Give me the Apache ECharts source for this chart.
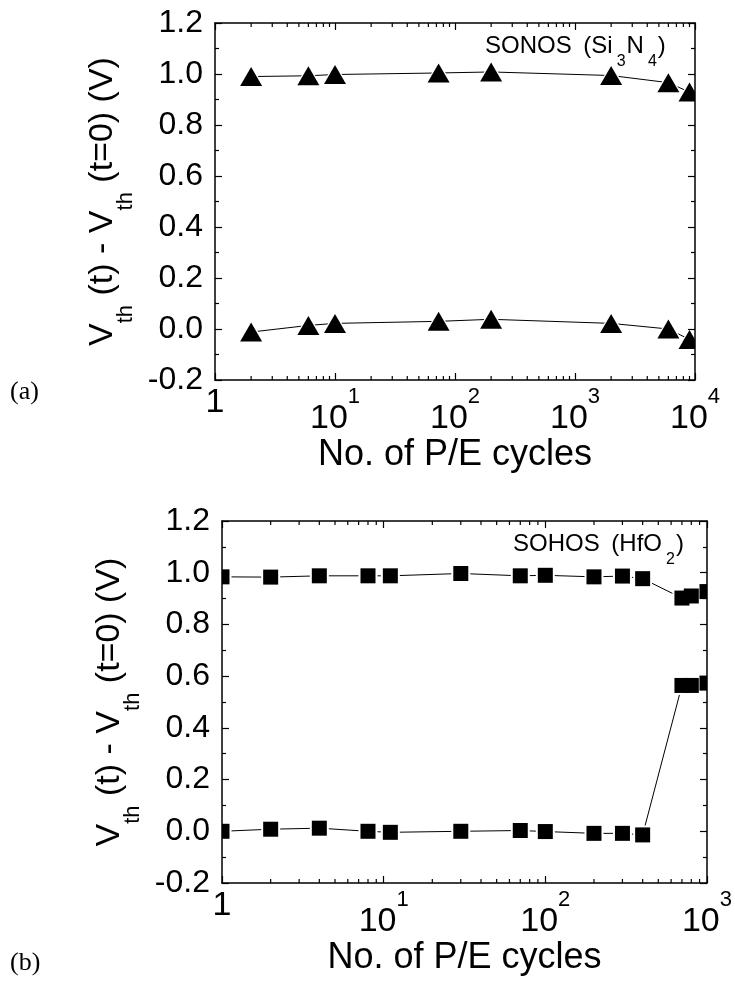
<!DOCTYPE html>
<html>
<head>
<meta charset="utf-8">
<script src="https://cdn.jsdelivr.net/npm/echarts@6/dist/echarts.min.js"></script>
<style>
  html, body { margin: 0; padding: 0; background: #fff; }
  #chart { width: 735px; height: 983px; }
</style>
</head>
<body>
<div id="chart"></div>
<script>
// Panel (a): SONOS (Si3N4) cell, threshold-voltage window vs. P/E cycles
const cyclesA = [2, 6, 10, 73, 200, 2000, 6000, 9000];
const upperA = [0.990, 0.993, 0.998, 1.004, 1.008, 0.994, 0.966, 0.929];
const lowerA = [-0.012, 0.014, 0.022, 0.030, 0.038, 0.022, 0.000, -0.041];

// Panel (b): SOHOS (HfO2) cell
const cyclesB = [1, 2, 4, 8, 11, 30, 70, 100, 200, 300, 400, 700, 800, 1000];
const upperB = [0.984, 0.983, 0.988, 0.988, 0.988, 0.997, 0.988, 0.990, 0.984, 0.987, 0.977, 0.902, 0.910, 0.927];
const lowerB = [0.000, 0.008, 0.012, 0.000, -0.004, 0.000, 0.003, -0.001, -0.008, -0.008, -0.014, 0.564, 0.564, 0.573];

// Axis ticks
const yTicks = [-0.2, 0.0, 0.2, 0.4, 0.6, 0.8, 1.0, 1.2];
const decadesA = [1, 10, 100, 1000, 10000];
const decadesB = [1, 10, 100, 1000];
const minorMultipliers = [2, 3, 4, 5, 6, 7, 8, 9];

const FONT = '"Liberation Sans", Arial, sans-serif';
const SERIF = '"Liberation Serif", "Times New Roman", serif';
const INK = '#000';

function minorValues(decades) {
  const out = [];
  decades.slice(0, -1).forEach(d => minorMultipliers.forEach(m => out.push([d * m])));
  return out;
}

function xLabel(v) {
  if (v === 1) return '{o|1}';
  return '{b|10}{s|' + Math.round(Math.log10(v)) + '}';
}

const frameLine = { show: true, onZero: false, lineStyle: { color: INK, width: 1.5 } };
const majorTick = { show: true, inside: true, length: 7, lineStyle: { color: INK, width: 1.2 } };

function xAxes(gridIndex, decades) {
  const common = {
    type: 'log', logBase: 10, gridIndex,
    min: decades[0], max: decades[decades.length - 1],
    splitNumber: decades.length - 1,
    axisLine: frameLine, axisTick: majorTick, splitLine: { show: false }, z: 10
  };
  return [
    Object.assign({}, common, {
      position: 'bottom',
      name: 'No. of P/E cycles', nameLocation: 'middle', nameGap: 51,
      nameTextStyle: { fontFamily: FONT, fontSize: 36, color: INK },
      axisLabel: {
        show: true, margin: 6, color: INK, fontFamily: FONT,
        formatter: xLabel,
        rich: {
          o: { fontFamily: FONT, fontSize: 34, lineHeight: 34, verticalAlign: 'top', color: INK },
          b: { fontFamily: FONT, fontSize: 34, lineHeight: 50, verticalAlign: 'bottom', color: INK },
          s: { fontFamily: FONT, fontSize: 22, lineHeight: 22, verticalAlign: 'top', color: INK }
        }
      }
    }),
    Object.assign({}, common, { position: 'top', axisLabel: { show: false } })
  ];
}

function yAxes(gridIndex) {
  const common = {
    type: 'value', gridIndex,
    min: yTicks[0], max: yTicks[yTicks.length - 1],
    interval: +(yTicks[1] - yTicks[0]).toFixed(2),
    axisLine: frameLine, axisTick: majorTick,
    minorTick: { show: true, splitNumber: 2, length: 4, lineStyle: { color: INK, width: 1.2 } },
    splitLine: { show: false }, minorSplitLine: { show: false }, z: 10
  };
  return [
    Object.assign({}, common, {
      position: 'left',
      name: '{b|V}{s|th}{b| (t) - V}{s|th}{b| (t=0) (V)}',
      nameLocation: 'middle', nameRotate: 90, nameGap: 80,
      nameTextStyle: {
        fontFamily: FONT, fontSize: 34, color: INK,
        rich: {
          b: { fontFamily: FONT, fontSize: 34, lineHeight: 34, verticalAlign: 'top', color: INK },
          s: { fontFamily: FONT, fontSize: 22, lineHeight: 22, verticalAlign: 'top', padding: [29, 0, 0, 0], color: INK }
        }
      },
      axisLabel: {
        show: true, margin: 12, color: INK, fontFamily: FONT, fontSize: 32,
        formatter: v => v.toFixed(1)
      }
    }),
    Object.assign({}, common, { position: 'right', axisLabel: { show: false } })
  ];
}

// connecting line, drawn beneath the symbols
function lineSeries(ax, xs, ys) {
  return {
    type: 'line', xAxisIndex: ax, yAxisIndex: ax, z: 2,
    data: xs.map((x, i) => [x, ys[i]]),
    symbol: 'none', showSymbol: false, silent: true,
    lineStyle: { color: INK, width: 1 }
  };
}

// symbols clipped to the plot frame; a white halo opens a small gap in the line
function symbolSeries(ax, xs, ys, shape, size, fill, z) {
  return {
    type: 'custom', xAxisIndex: ax, yAxisIndex: ax, z, silent: true, clip: false,
    data: xs.map((x, i) => [x, ys[i]]),
    encode: { x: 0, y: 1 },
    renderItem(params, api) {
      const c = api.coord([api.value(0), api.value(1)]);
      const cs = params.coordSys;
      const w = size[0], h = size[1];
      const el = shape === 'triangle'
        ? { type: 'polygon', shape: { points: [[c[0], c[1] - h / 2], [c[0] + w / 2, c[1] + h / 2], [c[0] - w / 2, c[1] + h / 2]] }, style: { fill } }
        : { type: 'rect', shape: { x: c[0] - w / 2, y: c[1] - h / 2, width: w, height: h }, style: { fill } };
      return {
        type: 'group',
        clipPath: { type: 'rect', shape: { x: cs.x, y: cs.y, width: cs.width, height: cs.height } },
        children: [el]
      };
    }
  };
}

// log-axis minor ticks (2..9 per decade) on the bottom and top edges
function minorTickSeries(ax, decades) {
  return {
    type: 'custom', xAxisIndex: ax, yAxisIndex: ax, z: 11, silent: true, clip: false,
    data: minorValues(decades).map(v => [v[0], 0]),
    encode: { x: 0, y: 1 },
    renderItem(params, api) {
      const x = api.coord([api.value(0), 0])[0];
      const cs = params.coordSys;
      const st = { stroke: INK, lineWidth: 1.2 };
      return {
        type: 'group',
        children: [
          { type: 'line', shape: { x1: x, y1: cs.y + cs.height, x2: x, y2: cs.y + cs.height - 4 }, style: st },
          { type: 'line', shape: { x1: x, y1: cs.y, x2: x, y2: cs.y + 4 }, style: st }
        ]
      };
    }
  };
}

function panelSeries(xAx, yAx, xs, up, lo, shape, halo, mark) {
  return [
    lineSeries(xAx, xs, up),
    lineSeries(xAx, xs, lo),
    symbolSeries(xAx, xs, up, shape, halo, '#fff', 3),
    symbolSeries(xAx, xs, lo, shape, halo, '#fff', 3),
    symbolSeries(xAx, xs, up, shape, mark, INK, 4),
    symbolSeries(xAx, xs, lo, shape, mark, INK, 4)
  ];
}

const axA = xAxes(0, decadesA), axB = xAxes(1, decadesB);
const ayA = yAxes(0), ayB = yAxes(1);

// panel (a) uses x/y axis 0, panel (b) uses x/y axis 2
function withAxes(list, xi, yi) {
  return list.map(s => Object.assign(s, { xAxisIndex: xi, yAxisIndex: yi }));
}

const legendRich = {
  a: { fontFamily: FONT, fontSize: 24, lineHeight: 24, verticalAlign: 'top', fill: INK },
  w: { fontFamily: FONT, fontSize: 24, lineHeight: 24, verticalAlign: 'top', padding: [0, 5, 0, 0], fill: INK },
  s: { fontFamily: FONT, fontSize: 16, lineHeight: 16, verticalAlign: 'top', padding: [20, 1, 0, 4], fill: INK }
};

const option = {
  animation: false,
  backgroundColor: '#fff',
  grid: [
    { left: 215, top: 23, width: 480, height: 357 },
    { left: 222, top: 521, width: 486, height: 362 }
  ],
  xAxis: [axA[0], axA[1], axB[0], axB[1]],
  yAxis: [ayA[0], ayA[1], ayB[0], ayB[1]],
  series: [].concat(
    withAxes(panelSeries(0, 0, cyclesA, upperA, lowerA, 'triangle', [28, 24], [22, 19]), 0, 0),
    withAxes([minorTickSeries(0, decadesA)], 0, 0),
    withAxes(panelSeries(2, 2, cyclesB, upperB, lowerB, 'rect', [19, 19], [15, 15]), 2, 2),
    withAxes([minorTickSeries(2, decadesB)], 2, 2)
  ),
  graphic: [
    { type: 'text', left: 485, top: 34, z: 20,
      style: { text: '{w|SONOS }{a|(Si}{s|3}{a|N}{s|4}{a|)}', rich: legendRich, fill: INK } },
    { type: 'text', left: 513, top: 532, z: 20,
      style: { text: '{w|SOHOS }{a|(HfO}{s|2}{a|)}', rich: legendRich, fill: INK } },
    { type: 'text', x: 10, y: 392, z: 20,
      style: { text: '(a)', font: '26px ' + SERIF, fill: INK, verticalAlign: 'middle' } },
    { type: 'text', x: 10, y: 963, z: 20,
      style: { text: '(b)', font: '26px ' + SERIF, fill: INK, verticalAlign: 'middle' } }
  ]
};

const chart = echarts.init(document.getElementById('chart'), null, { renderer: 'canvas' });
chart.setOption(option);
</script>
</body>
</html>
